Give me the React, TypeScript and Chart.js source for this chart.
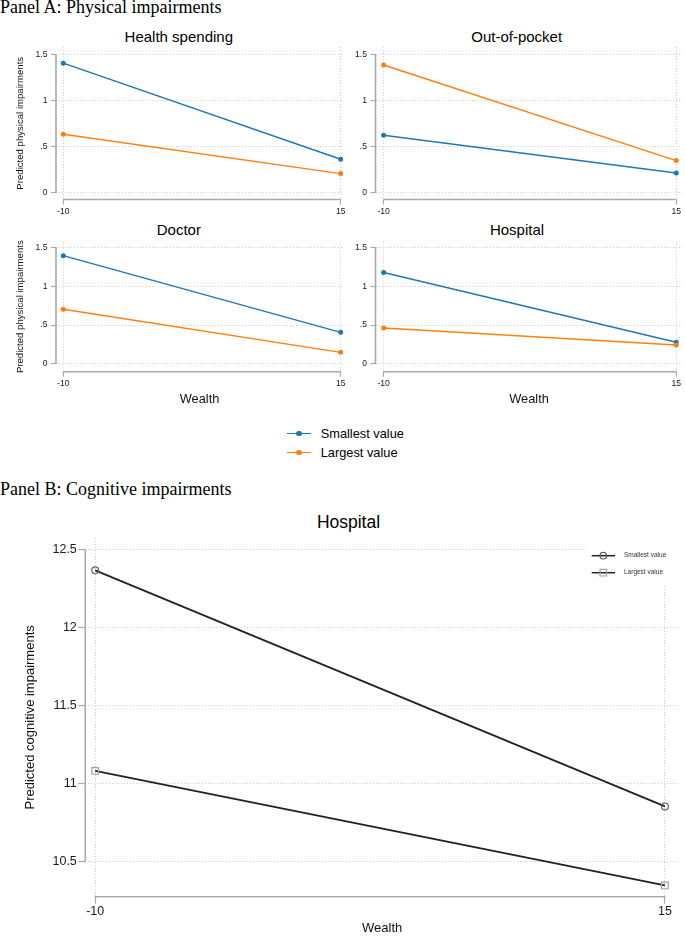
import React, { useEffect, useRef } from "react";
import { Chart, registerables } from "chart.js";

Chart.register(...registerables);

const FONT = "'Liberation Sans', Arial, Helvetica, sans-serif";
const SERIF = "'Liberation Serif', 'Times New Roman', Times, serif";
Chart.defaults.font.family = FONT;

// ---------------- data ----------------
const wealth = [-10, 15];
const wealthTickLabels = ["-10", "15"];
const physTickValues = [0, 0.5, 1, 1.5];
const physTickLabels = ["0", ".5", "1", "1.5"];
const cogTickValues = [10.5, 11, 11.5, 12, 12.5];
const cogTickLabels = ["10.5", "11", "11.5", "12", "12.5"];
const seriesLabels = ["Smallest value", "Largest value"];

const healthSpendingSmallest = [1.41, 0.36];
const healthSpendingLargest = [0.634, 0.203];
const outOfPocketSmallest = [0.623, 0.21];
const outOfPocketLargest = [1.39, 0.345];
const doctorSmallest = [1.397, 0.406];
const doctorLargest = [0.704, 0.147];
const hospitalPhysSmallest = [1.18, 0.277];
const hospitalPhysLargest = [0.462, 0.242];
const hospitalCogSmallest = [12.365, 10.854];
const hospitalCogLargest = [11.081, 10.348];

// ---------------- styles ----------------
const BLUE = "#1f77b4";
const ORANGE = "#ff7f0e";
const AXIS = "#a9a9a9";
const GRID = "#cdcdcd";
const TICK_TEXT = "#1a1a1a";
const MONO_LINE = "#222222";
const CIRCLE_EDGE = "#5c5c5c";
const SQUARE_EDGE = "#a0a0a0";

type Panel = {
  id: string;
  left: number;
  top: number;
  width: number;
  height: number;
  padTop: number;
  padRight: number;
  yAxisWidth: number;
  xAxisHeight: number;
  xMin: number;
  xMax: number;
  yMin: number;
  yMax: number;
  yTicks: number[];
  yLabels: string[];
  smallest: number[];
  largest: number[];
  yTitle: string | null;
  yTitleSize: number;
  yTitlePad: number;
  xTitle: string | null;
  xTitleSize: number;
  xTitlePad: number;
  tickSize: number;
  tickLength: number;
  yTickPad: number;
  xTickPad: number;
  mono: boolean;
};

const panelA = {
  yTicks: physTickValues,
  yLabels: physTickLabels,
  yTitleSize: 9.6,
  yTitlePad: 15,
  xTitleSize: 12.8,
  xTitlePad: 3.3,
  tickSize: 8.6,
  tickLength: 5,
  yTickPad: 3.5,
  xTickPad: 2,
  mono: false,
};

const panels: Panel[] = [
  {
    ...panelA,
    id: "hs",
    left: 0, top: 40, width: 350, height: 180,
    padTop: 7, padRight: 7, yAxisWidth: 56, xAxisHeight: 20.5,
    xMin: -10.658, xMax: 15.207, yMin: -0.08, yMax: 1.587,
    smallest: healthSpendingSmallest, largest: healthSpendingLargest,
    yTitle: "Predicted physical impairments", xTitle: null,
  },
  {
    ...panelA,
    id: "oop",
    left: 343, top: 40, width: 342, height: 180,
    padTop: 7, padRight: 0, yAxisWidth: 32.5, xAxisHeight: 20.5,
    xMin: -10.695, xMax: 15.534, yMin: -0.08, yMax: 1.587,
    smallest: outOfPocketSmallest, largest: outOfPocketLargest,
    yTitle: null, xTitle: null,
  },
  {
    ...panelA,
    id: "doc",
    left: 0, top: 235, width: 350, height: 175,
    padTop: 6.7, padRight: 7, yAxisWidth: 56, xAxisHeight: 38.3,
    xMin: -10.658, xMax: 15.207, yMin: -0.1035, yMax: 1.5776,
    smallest: doctorSmallest, largest: doctorLargest,
    yTitle: "Predicted physical impairments", xTitle: "Wealth",
  },
  {
    ...panelA,
    id: "hosp",
    left: 343, top: 235, width: 342, height: 175,
    padTop: 6.7, padRight: 0, yAxisWidth: 32.5, xAxisHeight: 38.3,
    xMin: -10.695, xMax: 15.534, yMin: -0.1035, yMax: 1.5776,
    smallest: hospitalPhysSmallest, largest: hospitalPhysLargest,
    yTitle: null, xTitle: "Wealth",
  },
  {
    id: "cog",
    left: 0, top: 530, width: 685, height: 406,
    padTop: 8, padRight: 0, yAxisWidth: 85.3, xAxisHeight: 39.3,
    xMin: -10.434, xMax: 15.621, yMin: 10.276, yMax: 12.572,
    yTicks: cogTickValues, yLabels: cogTickLabels,
    smallest: hospitalCogSmallest, largest: hospitalCogLargest,
    yTitle: "Predicted cognitive impairments", yTitleSize: 13, yTitlePad: 22.2,
    xTitle: "Wealth", xTitleSize: 13, xTitlePad: 0.2,
    tickSize: 12.5, tickLength: 7, yTickPad: 1.5, xTickPad: 0,
    mono: true,
  },
];

// legend geometry for panel B (canvas coordinates)
const cogLegend = {
  boxX: 587, boxY: 8, boxW: 98, boxH: 46,
  rows: [25.7, 42.7], lineX0: 591.7, lineX1: 615, markerX: 603.3, textX: 624, fontSize: 6.5,
};

function axisLinePlugin() {
  return {
    id: "axisLines",
    beforeDatasetsDraw(chart: any) {
      const { ctx, chartArea, scales } = chart;
      const xs = scales.x.ticks.map((t: any) => scales.x.getPixelForValue(t.value));
      const ys = scales.y.ticks.map((t: any) => scales.y.getPixelForValue(t.value));
      ctx.save();
      ctx.strokeStyle = AXIS;
      ctx.lineWidth = 1.6;
      ctx.beginPath();
      ctx.moveTo(chartArea.left, Math.min(...ys) - 0.5);
      ctx.lineTo(chartArea.left, Math.max(...ys) + 0.5);
      ctx.moveTo(Math.min(...xs) - 0.5, chartArea.bottom);
      ctx.lineTo(Math.max(...xs) + 0.5, chartArea.bottom);
      ctx.stroke();
      ctx.restore();
    },
  };
}

const cogLegendPlugin = {
  id: "cogLegend",
  afterDatasetsDraw(chart: any) {
    const { ctx } = chart;
    const L = cogLegend;
    ctx.save();
    ctx.fillStyle = "#ffffff";
    ctx.fillRect(L.boxX, L.boxY, L.boxW, L.boxH);
    chart.data.datasets.forEach((ds: any, i: number) => {
      const y = L.rows[i];
      ctx.strokeStyle = ds.borderColor;
      ctx.lineWidth = 1.5;
      ctx.beginPath();
      ctx.moveTo(L.lineX0, y);
      ctx.lineTo(L.lineX1, y);
      ctx.stroke();
      ctx.strokeStyle = ds.pointBorderColor;
      ctx.lineWidth = 1.1;
      ctx.beginPath();
      if (ds.pointStyle === "rect") {
        ctx.rect(L.markerX - 3.3, y - 3.3, 6.6, 6.6);
      } else {
        ctx.arc(L.markerX, y, 3.3, 0, Math.PI * 2);
      }
      ctx.stroke();
      ctx.fillStyle = "#333";
      ctx.font = `${L.fontSize}px ${FONT}`;
      ctx.textBaseline = "middle";
      ctx.textAlign = "left";
      ctx.fillText(ds.label, L.textX, y);
    });
    ctx.restore();
  },
};

function buildChart(canvas: HTMLCanvasElement, p: Panel) {
  const toPts = (vals: number[]) => wealth.map((x, i) => ({ x, y: vals[i] }));
  const datasets: any[] = p.mono
    ? [
        {
          label: seriesLabels[0], data: toPts(p.smallest),
          borderColor: MONO_LINE, borderWidth: 1.8,
          pointStyle: "circle", pointRadius: 3.4, pointHoverRadius: 3.4,
          pointBorderColor: CIRCLE_EDGE, pointBackgroundColor: "rgba(0,0,0,0)", pointBorderWidth: 1.2,
        },
        {
          label: seriesLabels[1], data: toPts(p.largest),
          borderColor: MONO_LINE, borderWidth: 1.8,
          pointStyle: "rect", pointRadius: 4.7, pointHoverRadius: 4.7,
          pointBorderColor: SQUARE_EDGE, pointBackgroundColor: "rgba(0,0,0,0)", pointBorderWidth: 1.2,
        },
      ]
    : [
        {
          label: seriesLabels[0], data: toPts(p.smallest), order: 1,
          borderColor: BLUE, backgroundColor: BLUE, borderWidth: 1.4,
          pointRadius: 2.5, pointHoverRadius: 2.5, pointBorderWidth: 0, pointBackgroundColor: BLUE,
        },
        {
          label: seriesLabels[1], data: toPts(p.largest), order: 0,
          borderColor: ORANGE, backgroundColor: ORANGE, borderWidth: 1.4,
          pointRadius: 2.5, pointHoverRadius: 2.5, pointBorderWidth: 0, pointBackgroundColor: ORANGE,
        },
      ];

  const plugins: any[] = [axisLinePlugin()];
  if (p.mono) plugins.push(cogLegendPlugin);

  return new Chart(canvas, {
    type: "line",
    data: { datasets },
    plugins,
    options: {
      animation: false,
      responsive: false,
      devicePixelRatio: 1,
      events: [],
      layout: { padding: { top: p.padTop, right: p.padRight, left: 0, bottom: 0 } },
      plugins: {
        legend: { display: false },
        tooltip: { enabled: false },
        title: { display: false },
      },
      scales: {
        x: {
          type: "linear",
          min: p.xMin,
          max: p.xMax,
          afterBuildTicks: (s: any) => {
            s.ticks = wealth.map((v) => ({ value: v }));
          },
          afterFit: (s: any) => {
            s.height = p.xAxisHeight;
            s.paddingLeft = 0;
            s.paddingRight = 0;
          },
          ticks: {
            autoSkip: false,
            maxRotation: 0,
            minRotation: 0,
            padding: p.xTickPad,
            color: TICK_TEXT,
            font: { size: p.tickSize, family: FONT },
            callback: (_v: any, i: number) => wealthTickLabels[i],
          },
          grid: {
            color: GRID,
            lineWidth: 1,
            drawTicks: true,
            tickLength: p.tickLength,
            tickColor: AXIS,
            tickWidth: 1.2,
          },
          border: { display: false, dash: [1, 2] },
          title: p.xTitle
            ? {
                display: true,
                text: p.xTitle,
                color: "#111",
                font: { size: p.xTitleSize, family: FONT },
                padding: { top: 0, bottom: p.xTitlePad },
              }
            : { display: false },
        },
        y: {
          type: "linear",
          min: p.yMin,
          max: p.yMax,
          afterBuildTicks: (s: any) => {
            s.ticks = p.yTicks.map((v) => ({ value: v }));
          },
          afterFit: (s: any) => {
            s.width = p.yAxisWidth;
            s.paddingTop = 0;
            s.paddingBottom = 0;
          },
          ticks: {
            autoSkip: false,
            padding: p.yTickPad,
            color: TICK_TEXT,
            font: { size: p.tickSize, family: FONT },
            callback: (_v: any, i: number) => p.yLabels[i],
          },
          grid: {
            color: GRID,
            lineWidth: 1,
            drawTicks: true,
            tickLength: p.tickLength,
            tickColor: AXIS,
            tickWidth: 1.2,
          },
          border: { display: false, dash: [1, 2] },
          title: p.yTitle
            ? {
                display: true,
                text: p.yTitle,
                color: "#111",
                font: { size: p.yTitleSize, family: FONT },
                padding: { top: p.yTitlePad, bottom: 0 },
              }
            : { display: false },
        },
      },
    } as any,
  });
}

function ChartPanel({ p }: { p: Panel }) {
  const ref = useRef<HTMLCanvasElement>(null);
  useEffect(() => {
    const chart = buildChart(ref.current as HTMLCanvasElement, p);
    return () => chart.destroy();
  }, [p]);
  return (
    <canvas
      ref={ref}
      width={p.width}
      height={p.height}
      style={{ position: "absolute", left: p.left, top: p.top, width: p.width, height: p.height }}
    />
  );
}

function Text({
  x, baseline, size, serif = false, center = true, children,
}: { x: number; baseline: number; size: number; serif?: boolean; center?: boolean; children: React.ReactNode }) {
  const k = serif ? 0.8375 : 0.8465;
  return (
    <div
      style={{
        position: "absolute",
        left: x,
        top: baseline - size * k,
        fontSize: size,
        lineHeight: `${size}px`,
        fontFamily: serif ? SERIF : FONT,
        color: "#000",
        whiteSpace: "nowrap",
        transform: center ? "translateX(-50%)" : undefined,
      }}
    >
      {children}
    </div>
  );
}

const legendAColors = [BLUE, ORANGE];
const legendARows = [433.3, 452.7];

export default function App() {
  return (
    <div style={{ position: "absolute", left: 0, top: 0, width: 685, height: 936, background: "#fff", overflow: "hidden" }}>
      <Text x={0} baseline={12.8} size={18} serif center={false}>Panel A: Physical impairments</Text>
      <Text x={178.8} baseline={41.2} size={15}>Health spending</Text>
      <Text x={516.7} baseline={41.2} size={15}>Out-of-pocket</Text>
      <Text x={178.8} baseline={234.3} size={15}>Doctor</Text>
      <Text x={517} baseline={234.3} size={15}>Hospital</Text>
      {panels.slice(0, 4).map((p) => (
        <ChartPanel key={p.id} p={p} />
      ))}
      {seriesLabels.map((lab, i) => (
        <React.Fragment key={lab}>
          <div style={{ position: "absolute", left: 287.3, top: legendARows[i] - 0.8, width: 23.4, height: 1.6, background: legendAColors[i] }} />
          <div style={{ position: "absolute", left: 299 - 2.6, top: legendARows[i] - 2.6, width: 5.2, height: 5.2, borderRadius: "50%", background: legendAColors[i] }} />
          <div
            style={{
              position: "absolute",
              left: 320.7,
              top: legendARows[i] - 7.68,
              fontSize: 12.8,
              lineHeight: "15.36px",
              fontFamily: FONT,
              color: "#000",
              whiteSpace: "nowrap",
            }}
          >
            {lab}
          </div>
        </React.Fragment>
      ))}
      <Text x={0} baseline={495} size={18} serif center={false}>Panel B: Cognitive impairments</Text>
      <Text x={348.5} baseline={529} size={17.5}>Hospital</Text>
      <ChartPanel p={panels[4]} />
    </div>
  );
}
